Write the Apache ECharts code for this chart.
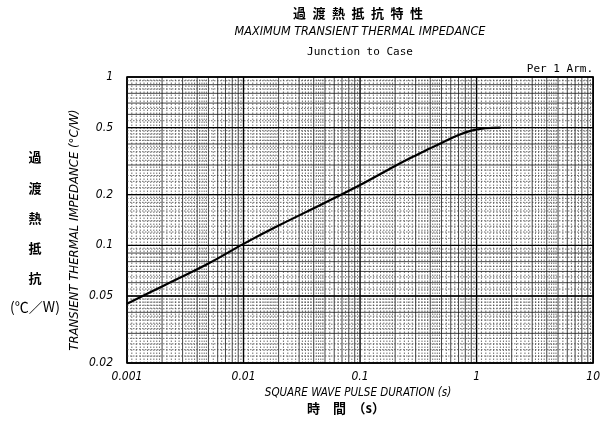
<!DOCTYPE html>
<html>
<head>
<meta charset="utf-8">
<script src="https://cdn.jsdelivr.net/npm/echarts@6/dist/echarts.min.js"></script>
<style>html,body{margin:0;padding:0;background:#fff}#c{width:603px;height:425px}</style>
</head>
<body>
<div id="c"></div>
<script>
// ---- data ----
var pulseDuration = [0.001, 0.002, 0.005, 0.01, 0.02, 0.05, 0.1, 0.2, 0.3, 0.4, 0.5, 0.7, 0.9, 1.2, 1.6];
var impedance     = [0.045, 0.057, 0.078, 0.102, 0.131, 0.179, 0.228, 0.296, 0.342, 0.377, 0.406, 0.452, 0.480, 0.496, 0.500];
var xTickVals   = [0.001, 0.01, 0.1, 1, 10];
var xTickLabels = ['0.001', '0.01', '0.1', '1', '10'];
var yTickVals   = [0.02, 0.05, 0.1, 0.2, 0.5, 1];
var yTickLabels = ['0.02', '0.05', '0.1', '0.2', '0.5', '1'];
var xDecades = [0.001, 0.01, 0.1, 1];
var yDecades = [0.01, 0.1];
var intMult  = [2, 3, 4, 5, 6, 7, 8, 9];
var fineMult = [1.1, 1.2, 1.3, 1.4, 1.5, 1.6, 1.7, 1.8, 1.9,
                2.2, 2.4, 2.6, 2.8, 3.2, 3.4, 3.6, 3.8, 4.2, 4.4, 4.6, 4.8,
                5.5, 6.5, 7.5, 8.5, 9.5];

// grid line tables: [value, level] level 0 = major, 1 = thin solid, 2 = dotted
function buildLines(decades, lo, hi, majors) {
  var out = [];
  decades.forEach(function (d) {
    fineMult.forEach(function (m) { out.push([d * m, 2]); });
    intMult.forEach(function (m) { out.push([d * m, 1]); });
  });
  majors.forEach(function (v) { out.push([v, 0]); });
  return out.filter(function (p) { return p[0] >= lo * 0.9999 && p[0] <= hi * 1.0001; });
}
var vLines = buildLines(xDecades, 0.001, 10, xTickVals);
var hLines = buildLines(yDecades, 0.02, 1, yTickVals);

var italicFont = '"Liberation Sans Narrow","DejaVu Sans Condensed","Liberation Sans",sans-serif';
var monoFont = '"DejaVu Sans Mono","Liberation Mono",monospace';
var cjk = '"Noto Sans CJK JP",sans-serif';

function lineStyleFor(level) {
  if (level === 0) return { stroke: '#000', lineWidth: 1.4 };
  if (level === 1) return { stroke: '#111', lineWidth: 0.8 };
  return { stroke: '#333', lineWidth: 0.7, lineDash: [1.5, 1.5] };
}

var chart = echarts.init(document.getElementById('c'), null, { renderer: 'canvas' });
chart.setOption({
  animation: false,
  backgroundColor: '#fff',
  grid: { left: 127, right: 8, top: 77, bottom: 62, show: true, borderColor: '#000', borderWidth: 1.6, backgroundColor: 'transparent' },
  xAxis: {
    type: 'log', logBase: 10, min: 0.001, max: 10,
    axisLine: { show: false }, axisTick: { show: false }, splitLine: { show: false },
    axisLabel: {
      margin: 8, color: '#000', fontStyle: 'italic', fontSize: 12, fontFamily: italicFont,
      formatter: function (v) {
        for (var i = 0; i < xTickVals.length; i++) {
          if (Math.abs(Math.log10(xTickVals[i]) - Math.log10(v)) < 1e-6) return xTickLabels[i];
        }
        return '';
      }
    }
  },
  yAxis: {
    type: 'log', logBase: 10, min: 0.02, max: 1,
    axisLine: { show: false }, axisTick: { show: false }, splitLine: { show: false },
    axisLabel: { show: false }
  },
  series: [
    {
      type: 'custom', silent: true, z: 1,
      data: vLines,
      renderItem: function (params, api) {
        var v = api.value(0), lv = api.value(1);
        var a = api.coord([v, 0.02]), b = api.coord([v, 1]);
        return { type: 'line', shape: { x1: a[0], y1: a[1], x2: b[0], y2: b[1] }, style: lineStyleFor(lv) };
      },
      encode: { x: 0 }
    },
    {
      type: 'custom', silent: true, z: 1,
      data: hLines.map(function (p) { return [0.01, p[0], p[1]]; }),
      renderItem: function (params, api) {
        var v = api.value(1), lv = api.value(2);
        var a = api.coord([0.001, v]), b = api.coord([10, v]);
        return { type: 'line', shape: { x1: a[0], y1: a[1], x2: b[0], y2: b[1] }, style: lineStyleFor(lv) };
      },
      encode: { x: 0, y: 1 }
    },
    {
      type: 'custom', silent: true, z: 3,
      data: yTickVals.map(function (v, i) { return [0.001, v, i]; }),
      renderItem: function (params, api) {
        var p = api.coord([0.001, api.value(1)]);
        return { type: 'text', x: p[0] - 14, y: p[1], style: { text: yTickLabels[api.value(2)], align: 'right', verticalAlign: 'middle', fill: '#000', font: 'italic 12px ' + italicFont } };
      },
      encode: { x: 0, y: 1 }
    },
    {
      type: 'line', z: 5, smooth: 0.4, symbol: 'none',
      lineStyle: { color: '#000', width: 2.2 },
      data: pulseDuration.map(function (t, i) { return [t, impedance[i]]; })
    }
  ],
  graphic: [
    { type: 'text', x: 358, y: 13, style: { text: '過\u2002渡\u2002熱\u2002抵\u2002抗\u2002特\u2002性', align: 'center', verticalAlign: 'middle', fill: '#000', font: 'bold 13px ' + cjk } },
    { type: 'text', x: 360, y: 32, style: { text: 'MAXIMUM TRANSIENT THERMAL IMPEDANCE', align: 'center', verticalAlign: 'middle', fill: '#000', font: 'italic 12.5px ' + italicFont } },
    { type: 'text', x: 360, y: 52, style: { text: 'Junction to Case', align: 'center', verticalAlign: 'middle', fill: '#000', font: '11px ' + monoFont } },
    { type: 'text', x: 593, y: 69, style: { text: 'Per 1 Arm.', align: 'right', verticalAlign: 'middle', fill: '#000', font: '11px ' + monoFont } },
    { type: 'text', x: 75, y: 230, rotation: Math.PI / 2, style: { text: 'TRANSIENT THERMAL IMPEDANCE (\u00b0C/W)', align: 'center', verticalAlign: 'middle', fill: '#000', font: 'italic 13px ' + italicFont } },
    { type: 'text', x: 35, y: 157, style: { text: '過', align: 'center', verticalAlign: 'middle', fill: '#000', font: 'bold 13px ' + cjk } },
    { type: 'text', x: 35, y: 188, style: { text: '渡', align: 'center', verticalAlign: 'middle', fill: '#000', font: 'bold 13px ' + cjk } },
    { type: 'text', x: 35, y: 218, style: { text: '熱', align: 'center', verticalAlign: 'middle', fill: '#000', font: 'bold 13px ' + cjk } },
    { type: 'text', x: 35, y: 248, style: { text: '抵', align: 'center', verticalAlign: 'middle', fill: '#000', font: 'bold 13px ' + cjk } },
    { type: 'text', x: 35, y: 278, style: { text: '抗', align: 'center', verticalAlign: 'middle', fill: '#000', font: 'bold 13px ' + cjk } },
    { type: 'text', x: 35, y: 307, style: { text: '(\u2103\uff0fW)', align: 'center', verticalAlign: 'middle', fill: '#000', font: '14px ' + cjk } },
    { type: 'text', x: 358, y: 393, style: { text: 'SQUARE WAVE PULSE DURATION (s)', align: 'center', verticalAlign: 'middle', fill: '#000', font: 'italic 11.5px ' + italicFont } },
    { type: 'text', x: 346, y: 408, style: { text: '時\u3000間\u3000\uff08s\uff09', align: 'center', verticalAlign: 'middle', fill: '#000', font: 'bold 13px ' + cjk } }
  ]
});
</script>
</body>
</html>
